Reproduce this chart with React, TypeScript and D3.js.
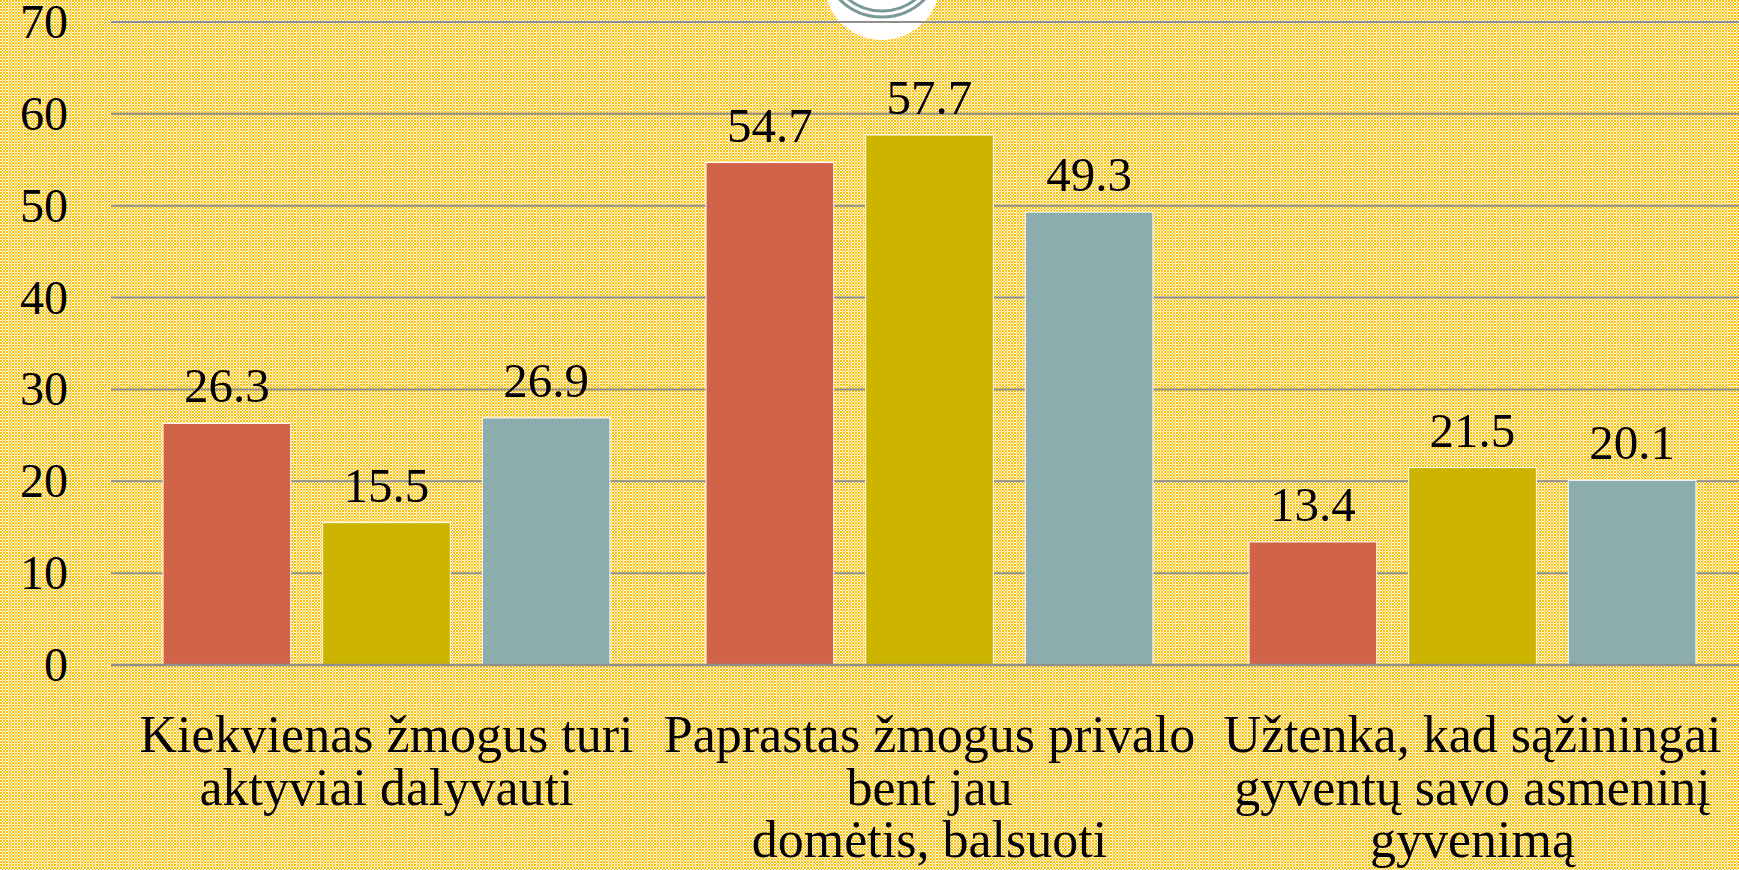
import * as React from 'react'
import * as d3 from 'd3'

const categories = [
    'Kiekvienas žmogus turi\naktyviai dalyvauti',
    'Paprastas žmogus privalo\nbent jau\ndomėtis, balsuoti',
    'Užtenka, kad sąžiningai\ngyventų savo asmeninį\ngyvenimą',
]
const seriesNames = ['s1', 's2', 's3']
const series1 = [26.3, 54.7, 13.4]
const series2 = [15.5, 57.7, 21.5]
const series3 = [26.9, 49.3, 20.1]
const yTicks = [0, 10, 20, 30, 40, 50, 60, 70]

const colors = ['#D16349', '#CCB400', '#8CADAE']
const W = 1739
const H = 870
const FONT = '"Liberation Serif", "Times New Roman", serif'

export default function App() {
    // gridlines start at gridLeft; the plot area runs a little past the right edge
    const gridLeft = 111
    const plot = { left: 115, right: 1744, top: 22, bottom: 665 }
    const values = [series1, series2, series3]

    const x0 = d3.scaleBand<string>()
        .domain(categories)
        .range([plot.left, plot.right])
        .paddingInner(0.177)
        .paddingOuter(0.0885)
    const x1 = d3.scaleBand<string>()
        .domain(seriesNames)
        .range([0, x0.bandwidth()])
        .paddingInner(0.2)
    const y = d3.scaleLinear().domain([0, 70]).range([plot.bottom, plot.top])

    return (
        <svg width={W} height={H} style={{ position: 'absolute', left: 0, top: 0, display: 'block' }}>
            <defs>
                <pattern id="dots" width={3} height={3} patternUnits="userSpaceOnUse">
                    <rect width={3} height={3} fill="#fff" />
                    <rect width={2} height={2} fill="#FFC000" />
                    <rect x={2} y={2} width={1} height={1} fill="#FFC000" />
                </pattern>
            </defs>
            <rect width={W} height={H} fill="url(#dots)" />

            {/* decoration at the top */}
            <circle cx={882} cy={-18} r={58} fill="#fff" />
            <circle cx={882} cy={-43} r={60} fill="none" stroke="#7A9A98" strokeWidth={3} />
            <circle cx={882} cy={-43} r={54} fill="none" stroke="#7A9A98" strokeWidth={3} />

            {/* grid */}
            {yTicks.map(t => (
                <g key={t}>
                    <line x1={gridLeft} x2={W} y1={y(t)} y2={y(t)}
                        stroke="#8E8E8E" strokeWidth={2} />
                    <text x={68} y={y(t) + 16} textAnchor="end" fontFamily={FONT}
                        fontSize={48} fill="#000">{t}</text>
                </g>
            ))}

            {/* bars */}
            {categories.map((c, ci) => (
                <g key={c} transform={`translate(${x0(c)},0)`}>
                    {seriesNames.map((s, si) => {
                        const v = values[si][ci]
                        const bx = x1(s) || 0
                        return (
                            <g key={s}>
                                <rect x={bx} y={y(v)} width={x1.bandwidth()} height={y(0) - y(v)}
                                    fill={colors[si]} stroke="#fff" strokeWidth={1} />
                                <text x={bx + x1.bandwidth() / 2} y={y(v) - 21} textAnchor="middle"
                                    fontFamily={FONT} fontSize={49} fill="#000">{v.toFixed(1)}</text>
                            </g>
                        )
                    })}
                </g>
            ))}

            {/* baseline */}
            <line x1={gridLeft} x2={W} y1={y(0)} y2={y(0)} stroke="#8E8E8E" strokeWidth={2.5} />

            {/* category labels */}
            {categories.map(c => (
                <text key={c} textAnchor="middle" fontFamily={FONT} fontSize={52} fill="#000">
                    {c.split('\n').map((line, li) => (
                        <tspan key={li} x={(x0(c) || 0) + x0.bandwidth() / 2}
                            y={y(0) + 87 + li * 52.5}>{line}</tspan>
                    ))}
                </text>
            ))}
        </svg>
    )
}
